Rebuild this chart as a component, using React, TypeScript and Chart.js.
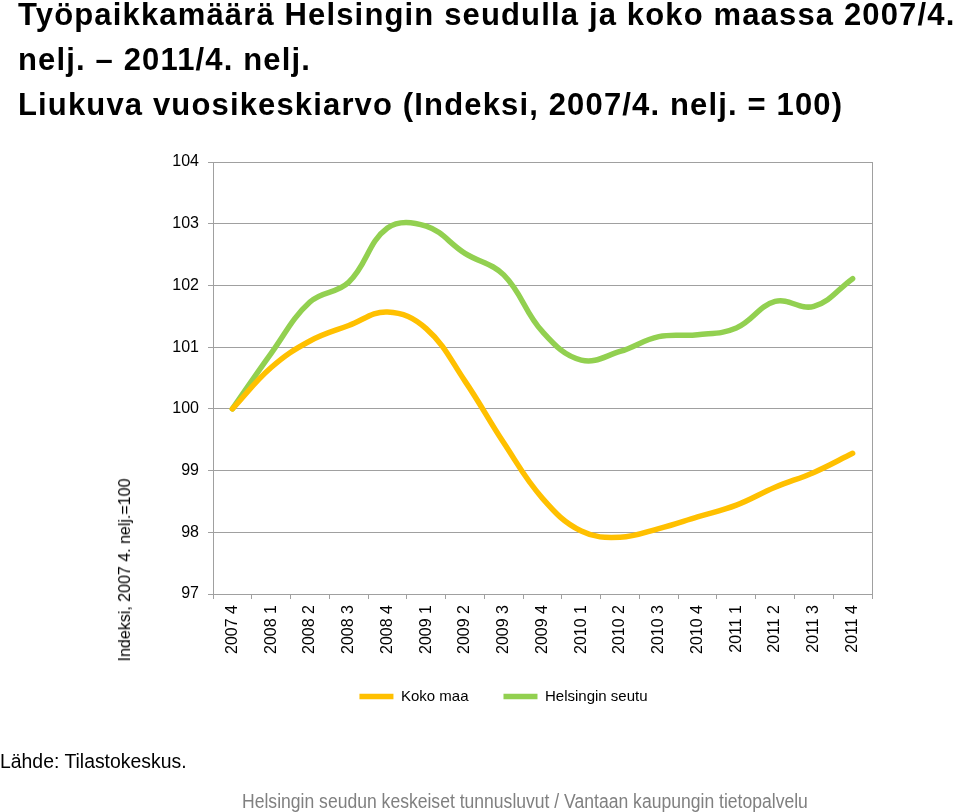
import React, { useEffect, useRef } from "react";
import { Chart, registerables } from "chart.js";

Chart.register(...registerables);

const categories = [
  "2007 4", "2008 1", "2008 2", "2008 3", "2008 4",
  "2009 1", "2009 2", "2009 3", "2009 4",
  "2010 1", "2010 2", "2010 3", "2010 4",
  "2011 1", "2011 2", "2011 3", "2011 4",
];

const kokoMaa = [
  100, 100.67, 101.1, 101.35, 101.57,
  101.3, 100.45, 99.45, 98.55,
  98.02, 97.92, 98.06, 98.25,
  98.44, 98.73, 98.97, 99.28,
];

const helsinginSeutu = [
  100, 100.9, 101.73, 102.05, 102.93,
  102.96, 102.52, 102.17, 101.25,
  100.79, 100.93, 101.17, 101.2,
  101.31, 101.74, 101.66, 102.11,
];

const seriesNames = ["Koko maa", "Helsingin seutu"];
const seriesColors = ["#FFC000", "#92D050"];

const titleLines = [
  "Työpaikkamäärä Helsingin seudulla ja koko maassa 2007/4.",
  "nelj. – 2011/4. nelj.",
  "Liukuva vuosikeskiarvo (Indeksi, 2007/4. nelj. = 100)",
];
const yAxisTitle = "Indeksi, 2007 4. nelj.=100";
const sourceText = "Lähde: Tilastokeskus.";
const footerText = "Helsingin seudun keskeiset tunnusluvut / Vantaan kaupungin tietopalvelu";

const FONT = "'Liberation Sans', Arial, Helvetica, sans-serif";
const GRID = "#a0a0a0";

const borderPlugin = {
  id: "plotBorder",
  afterDatasetsDraw(chart: any) {
    const { ctx, chartArea } = chart;
    ctx.save();
    ctx.strokeStyle = GRID;
    ctx.lineWidth = 1;
    ctx.beginPath();
    ctx.moveTo(Math.round(chartArea.right) + 0.5, chartArea.top);
    ctx.lineTo(Math.round(chartArea.right) + 0.5, chartArea.bottom);
    ctx.stroke();
    ctx.restore();
  },
};

export default function App() {
  const canvasRef = useRef<HTMLCanvasElement | null>(null);

  useEffect(() => {
    const canvas = canvasRef.current;
    if (!canvas) return;
    const chart = new Chart(canvas, {
      type: "line",
      data: {
        labels: categories,
        datasets: [
          {
            label: seriesNames[0],
            data: kokoMaa,
            borderColor: seriesColors[0],
            backgroundColor: seriesColors[0],
            borderWidth: 5.5,
            borderCapStyle: "round",
            borderJoinStyle: "round",
            tension: 0.4,
            pointRadius: 0,
            pointHoverRadius: 0,
            fill: false,
          },
          {
            label: seriesNames[1],
            data: helsinginSeutu,
            borderColor: seriesColors[1],
            backgroundColor: seriesColors[1],
            borderWidth: 5.5,
            borderCapStyle: "round",
            borderJoinStyle: "round",
            tension: 0.4,
            pointRadius: 0,
            pointHoverRadius: 0,
            fill: false,
          },
        ],
      },
      options: {
        animation: false,
        responsive: false,
        maintainAspectRatio: false,
        layout: { padding: { left: 135, right: 88, top: 162, bottom: 98 } },
        plugins: {
          title: { display: false },
          tooltip: { enabled: false },
          legend: {
            display: true,
            position: "bottom",
            labels: {
              usePointStyle: true,
              pointStyle: "line",
              pointStyleWidth: 34,
              padding: 35,
              color: "#000",
              font: { family: FONT, size: 15 },
            },
          },
        },
        scales: {
          x: {
            type: "category",
            offset: true,
            afterFit(scale: any) {
              scale.height = 60;
            },
            grid: {
              display: true,
              offset: true,
              drawOnChartArea: false,
              drawTicks: true,
              tickLength: 5,
              color: GRID,
            },
            border: { display: true, color: GRID },
            ticks: {
              autoSkip: false,
              minRotation: 90,
              maxRotation: 90,
              padding: 6,
              color: "#000",
              font: { family: FONT, size: 16 },
            },
          },
          y: {
            min: 97,
            max: 104,
            afterFit(scale: any) {
              scale.width = 78;
            },
            grid: {
              display: true,
              drawTicks: true,
              tickLength: 5,
              color: GRID,
            },
            border: { display: true, color: GRID },
            ticks: {
              stepSize: 1,
              padding: 9,
              color: "#000",
              font: { family: FONT, size: 16 },
            },
          },
        },
      },
      plugins: [borderPlugin],
    });
    return () => chart.destroy();
  }, []);

  return (
    <div
      style={{
        position: "absolute",
        left: 0,
        top: 0,
        width: 960,
        height: 812,
        overflow: "hidden",
        background: "#fff",
        fontFamily: FONT,
      }}
    >
      <canvas
        ref={canvasRef}
        width={960}
        height={812}
        style={{ position: "absolute", left: 0, top: 0, width: 960, height: 812 }}
      />
      {titleLines.map((t, i) => (
        <div
          key={i}
          style={{
            position: "absolute",
            left: 18,
            top: [-1, 44, 89][i],
            fontSize: 31,
            fontWeight: "bold",
            letterSpacing: "1.15px",
            whiteSpace: "nowrap",
            lineHeight: "31px",
            color: "#000",
          }}
        >
          {t}
        </div>
      ))}
      <div
        style={{
          position: "absolute",
          left: 125,
          top: 570,
          transform: "translate(-50%, -50%) rotate(-90deg)",
          fontSize: 16,
          lineHeight: "18px",
          whiteSpace: "nowrap",
          color: "#000",
        }}
      >
        {yAxisTitle}
      </div>
      <div
        style={{
          position: "absolute",
          left: 0,
          top: 751,
          fontSize: 20,
          lineHeight: "20px",
          transform: "scaleX(0.97)",
          transformOrigin: "left center",
          whiteSpace: "nowrap",
          color: "#000",
        }}
      >
        {sourceText}
      </div>
      <div
        style={{
          position: "absolute",
          left: 242,
          top: 791,
          fontSize: 20,
          lineHeight: "20px",
          transform: "scaleX(0.878)",
          transformOrigin: "left center",
          whiteSpace: "nowrap",
          color: "#808080",
        }}
      >
        {footerText}
      </div>
    </div>
  );
}
